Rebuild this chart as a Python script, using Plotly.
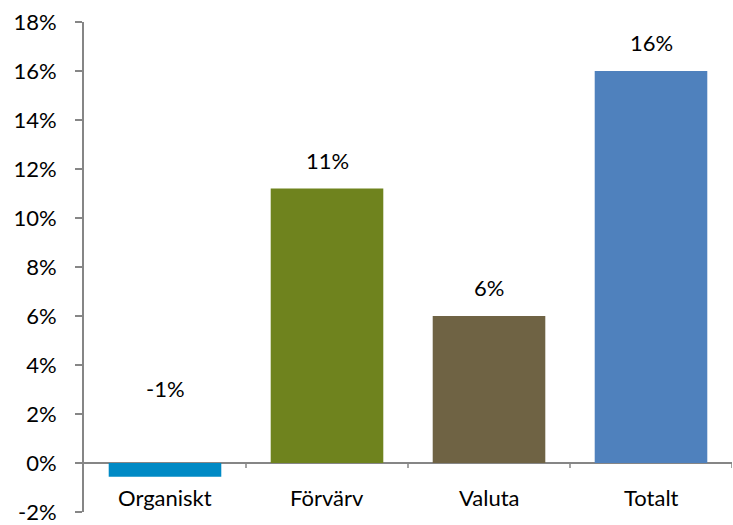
import plotly.graph_objects as go

categories = ["Organiskt", "Förvärv", "Valuta", "Totalt"]
values = [-0.56, 11.2, 6.0, 16.0]
labels = ["-1%", "11%", "6%", "16%"]
colors = ["#008AC5", "#6F831E", "#6F6344", "#4F81BD"]
tick_vals = list(range(-2, 19, 2))
tick_text = [f"{v}%" for v in tick_vals]

FONT = "Lato, Calibri, sans-serif"
FS = 22
AX = "#868686"

fig = go.Figure()
fig.add_trace(go.Bar(
    x=categories, y=values, marker=dict(color=colors, line=dict(width=0)),
    width=0.695, hoverinfo="skip",
))

for c, v, t in zip(categories, values, labels):
    ypos = v if v > 0 else 3.0
    fig.add_annotation(x=c, y=ypos, text=t, showarrow=False, yanchor="bottom",
                       yshift=13 if v > 0 else -14,
                       font=dict(family=FONT, size=FS, color="#000000"))

fig.update_layout(
    width=733, height=525,
    margin=dict(l=84, r=1, t=22, b=13, autoexpand=False),
    paper_bgcolor="white", plot_bgcolor="white",
    showlegend=False,
    font=dict(family=FONT, size=FS, color="#000000"),
    xaxis=dict(
        showline=False, showgrid=False, zeroline=False,
        ticks="", showticklabels=False, range=[-0.5, 3.5],
    ),
    yaxis=dict(
        range=[-2, 18], tickvals=tick_vals, ticktext=tick_text,
        showgrid=False, zeroline=True, zerolinecolor=AX, zerolinewidth=2,
        showline=True, linecolor=AX, linewidth=2,
        ticks="outside", ticklen=7, tickcolor=AX, tickwidth=1.5,
        ticklabelstandoff=14, automargin=False, ticklabeloverflow="allow",
        tickfont=dict(family=FONT, size=FS, color="#000000"),
    ),
)

for c in categories:
    fig.add_annotation(x=c, y=0, yref="y", text=c, showarrow=False,
                       yanchor="middle", yshift=-34,
                       font=dict(family=FONT, size=FS, color="#000000"))
for i in range(1, 5):
    fig.add_shape(type="line", xref="x", yref="y", x0=i - 0.5, x1=i - 0.5,
                  y0=0, y1=-0.2, line=dict(color=AX, width=1.5))

fig.write_html("out.html", config={"displayModeBar": False},
               post_script="document.body.style.margin='0';document.body.style.overflow='hidden';")
